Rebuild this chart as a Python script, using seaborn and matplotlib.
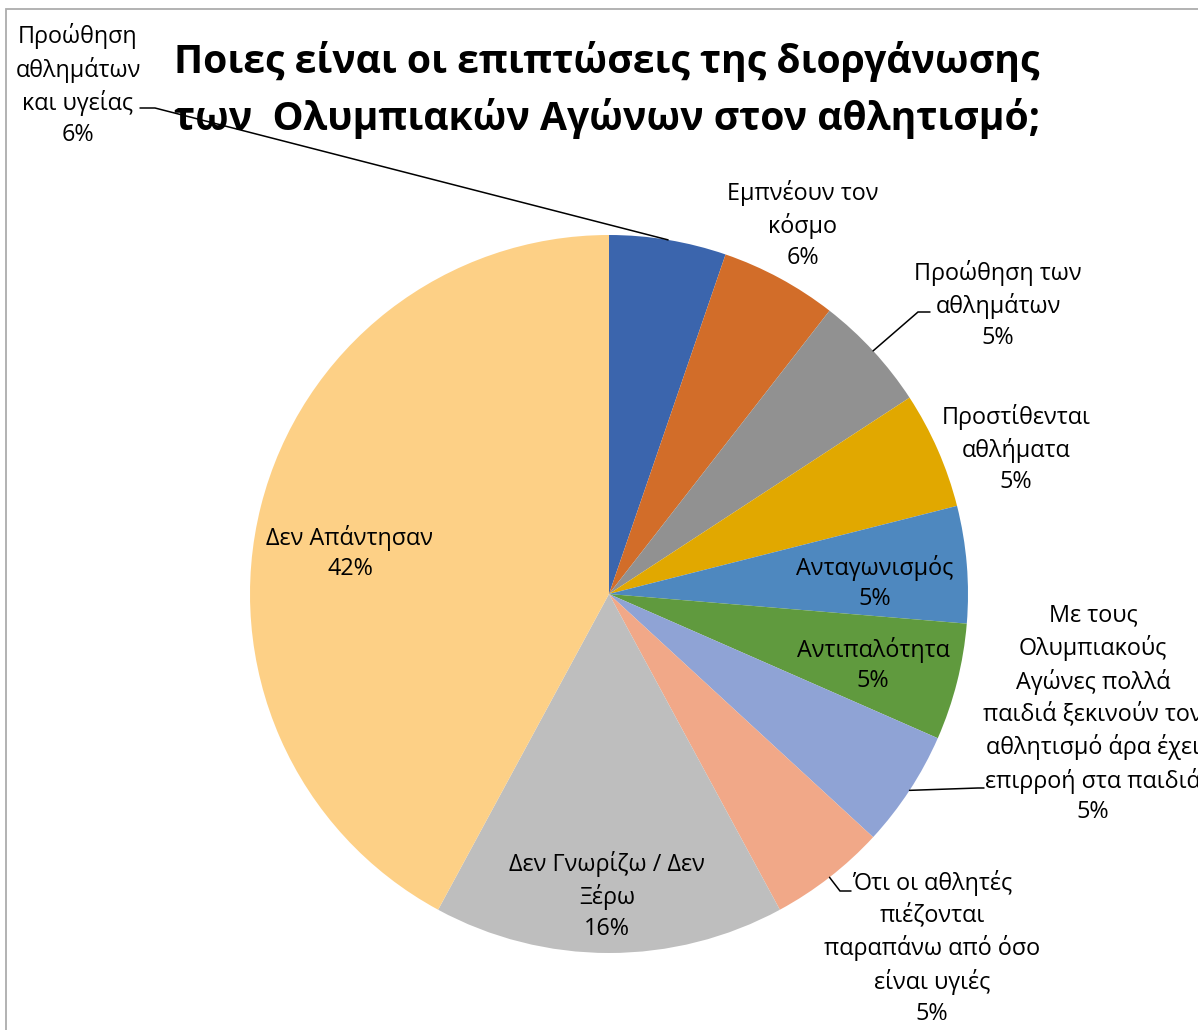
import numpy as np
import matplotlib
matplotlib.use("Agg")
import matplotlib.pyplot as plt
import seaborn as sns

sns.set_theme(style="white")
plt.rcParams["font.family"] = ["Open Sans", "DejaVu Sans"]

# answers (estimated response counts)
categories = [
    "Προώθηση\nαθλημάτων\nκαι υγείας",
    "Εμπνέουν τον\nκόσμο",
    "Προώθηση των\nαθλημάτων",
    "Προστίθενται\nαθλήματα",
    "Ανταγωνισμός",
    "Αντιπαλότητα",
    "Με τους\nΟλυμπιακούς\nΑγώνες πολλά\nπαιδιά ξεκινούν τον\nαθλητισμό άρα έχει\nεπιρροή στα παιδιά",
    "Ότι οι αθλητές\nπιέζονται\nπαραπάνω από όσο\nείναι υγιές",
    "Δεν Γνωρίζω / Δεν\nΞέρω",
    "Δεν Απάντησαν",
]
counts = [1, 1, 1, 1, 1, 1, 1, 1, 3, 8]
pct_labels = ["6%", "6%", "5%", "5%", "5%", "5%", "5%", "5%", "16%", "42%"]
colors = ["#3B65AD", "#D26D29", "#919191", "#E1A800", "#4E88BF",
          "#609A3E", "#8FA3D5", "#F1A888", "#BEBEBE", "#FDD086"]

title = "Ποιες είναι οι επιπτώσεις της διοργάνωσης\nτων  Ολυμπιακών Αγώνων στον αθλητισμό;"

W, H = 1198, 1030
cx, cy, R = 609, 594, 359

fig = plt.figure(figsize=(W / 100, H / 100), dpi=100)
ax = fig.add_axes([(cx - R) / W, (H - cy - R) / H, 2 * R / W, 2 * R / H])

wedges, _ = ax.pie(counts, colors=colors, startangle=90, counterclock=False,
                   radius=1, wedgeprops=dict(linewidth=0))
ax.set_xlim(-1, 1)
ax.set_ylim(-1, 1)
ax.axis("off")


def px(x, y):
    return (x - cx) / R, (cy - y) / R


# label centres in pixels of the original layout
label_pos = [(78, 85), (803, 225), (998, 305), (1016, 449), (875, 583),
             (873, 665), (1093, 714), (932, 948), (607, 896), (350, 553)]
# leader lines: (elbow, end) in pixels, None when label sits without a line
leaders = [((155, 108), (140, 108)), None, ((918, 312), (930, 312)), None,
           None, None, ((978, 788), (984, 788)), ((840, 891), (851, 891)),
           None, None]

for w, cat, pct, pos, ld in zip(wedges, categories, pct_labels, label_pos, leaders):
    tx, ty = px(*pos)
    ax.text(tx, ty, f"{cat}\n{pct}", ha="center", va="center", fontsize=16.8,
            linespacing=1.38, color="#000000", clip_on=False)
    if ld is not None:
        mid = np.deg2rad((w.theta1 + w.theta2) / 2)
        ax_, ay_ = np.cos(mid), np.sin(mid)
        ex, ey = px(*ld[0])
        fx, fy = px(*ld[1])
        ax.plot([ax_, ex, fx], [ay_, ey, fy], color="#000000", lw=1.1,
                clip_on=False, solid_joinstyle="miter")

fig.text(607 / W, 1 - 90 / H, title, ha="center", va="center", fontsize=28.2,
         fontweight="bold", linespacing=1.5, color="#000000")

# chart area border (runs off the right and bottom edge)
border = plt.Rectangle((6 / W, -0.1), 1.2, 1 - 9 / H + 0.1, transform=fig.transFigure,
                       fill=False, edgecolor="#ADADAD", lw=1.3)
fig.patches.append(border)

fig.savefig("out.png", dpi=100)
